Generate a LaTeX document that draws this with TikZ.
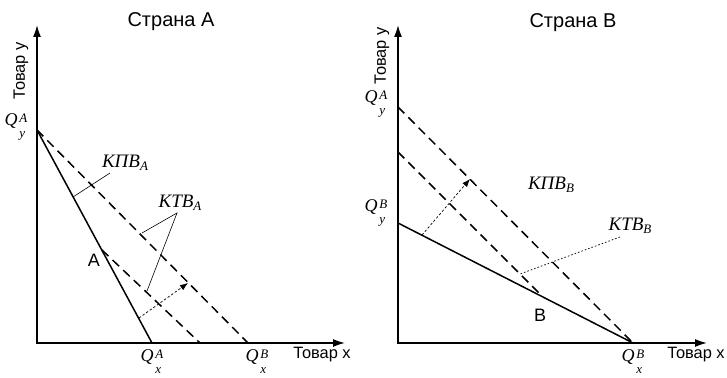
\documentclass[tikz,border=0pt]{standalone}
\usepackage{fontspec}
\setmainfont{Liberation Sans}
\newfontfamily\labfont{Liberation Serif}
\usetikzlibrary{arrows.meta}

\newcommand{\smallit}[1]{\labfont\itshape\fontsize{6.5}{7}\selectfont #1}
\newcommand{\qlab}[2]{{\labfont\itshape Q}\kern0.9pt\raisebox{-2pt}{\smallit{\begin{tabular}{@{}l@{}}#2\\[0.6pt]#1\end{tabular}}}}
\newcommand{\curvelab}[2]{{\labfont\itshape #1}\raisebox{-1.6pt}{\smallit{#2}}}

\begin{document}
\begin{tikzpicture}[
  x=0.5pt,y=-0.5pt,
  axes/.style={line width=0.8pt,{Latex[length=6pt,width=4pt]}-{Latex[length=6pt,width=4pt]}},
  ppf/.style={line width=0.75pt},
  tpf/.style={line width=0.75pt,dash pattern=on 4.5pt off 2.8pt},
  leader/.style={line width=0.3pt},
  dotleader/.style={line width=0.35pt,dash pattern=on 0.8pt off 1pt},
  shiftarrow/.style={line width=0.35pt,dash pattern=on 1.2pt off 1pt,
    -{Latex[length=4pt,width=3pt]}},
  title/.style={font=\fontsize{10}{12}\selectfont},
  axlab/.style={font=\fontsize{8.2}{10}\selectfont,inner sep=0pt},
  qlabel/.style={font=\fontsize{9}{11}\selectfont,inner sep=0pt},
  curvelabel/.style={font=\fontsize{9.5}{11}\selectfont,inner sep=0pt},
  pointlab/.style={font=\fontsize{9}{11}\selectfont,inner sep=0pt},
]
\useasboundingbox (0,0) rectangle (727,378);

% Страна A
\coordinate (topA) at (37,25);
\coordinate (oA) at (37,343);
\coordinate (rightA) at (345,343);
\coordinate (yA) at (37,130);
\coordinate (xA) at (152,343);
\coordinate (xAB) at (248,343);
\coordinate (ptA) at (102,250);
\coordinate (midA) at (200,343);

\draw[axes] (topA) -- (oA) -- (rightA);
\draw[ppf] (yA) -- (xA);
\draw[tpf] (yA) -- (xAB);
\draw[tpf] (ptA) -- (midA);

\node[title] (titleA) at (171,22) {Страна А};
\node[axlab,rotate=90] (goodyA) at (21,71) {Товар у};
\node[axlab] (goodxA) at (322,355) {Товар х};
\node[qlabel] (lyA) at (16,127) {\qlab{y}{A}};
\node[qlabel] (lxA) at (152,363) {\qlab{x}{A}};
\node[qlabel] (lxAB) at (257,363) {\qlab{x}{B}};
\node[pointlab] (labA) at (94,260) {A};

\node[curvelabel] (kpvA) at (125,163) {\curvelab{КПВ}{A}};
\coordinate (kpvAfoot) at (73,197);
\coordinate (kpvAtip) at (110,173);
\draw[leader] (kpvAfoot) -- (kpvAtip);

\node[curvelabel] (ktvA) at (180,203) {\curvelab{КТВ}{A}};
\coordinate (ktvAtip) at (177,213);
\coordinate (ktvAo) at (142,233);
\coordinate (ktvAm) at (147,291);
\draw[leader] (ktvAo) -- (ktvAtip) -- (ktvAm);

\coordinate (shiftAs) at (139,318);
\coordinate (shiftAe) at (188,283);
\draw[shiftarrow] (shiftAs) -- (shiftAe);

% Страна B
\coordinate (topB) at (398,25);
\coordinate (oB) at (398,343);
\coordinate (rightB) at (707,343);
\coordinate (yBA) at (398,107);
\coordinate (yBin) at (398,152);
\coordinate (yB) at (398,223);
\coordinate (xB) at (633,343);
\coordinate (ptB) at (542,296);

\draw[axes] (topB) -- (oB) -- (rightB);
\draw[ppf] (yB) -- (xB);
\draw[tpf] (yBA) -- (xB);
\draw[tpf] (yBin) -- (ptB);

\node[title] (titleB) at (573,23) {Страна В};
\node[axlab,rotate=90] (goodyB) at (382,56) {Товар у};
\node[axlab] (goodxB) at (696,355) {Товар х};
\node[qlabel] (lyBA) at (376,104) {\qlab{y}{A}};
\node[qlabel] (lyB) at (376,213) {\qlab{y}{B}};
\node[qlabel] (lxB) at (633,363) {\qlab{x}{B}};
\node[pointlab] (labB) at (540,315) {B};

\node[curvelabel] (kpvB) at (551,185) {\curvelab{КПВ}{B}};
\node[curvelabel] (ktvB) at (630,226) {\curvelab{КТВ}{B}};
\coordinate (ktvBtip) at (620,237);
\coordinate (ktvBfoot) at (520,274);
\draw[dotleader] (ktvBtip) -- (ktvBfoot);

\coordinate (shiftBs) at (422,235);
\coordinate (shiftBe) at (470,179);
\draw[shiftarrow] (shiftBs) -- (shiftBe);
\end{tikzpicture}
\end{document}
